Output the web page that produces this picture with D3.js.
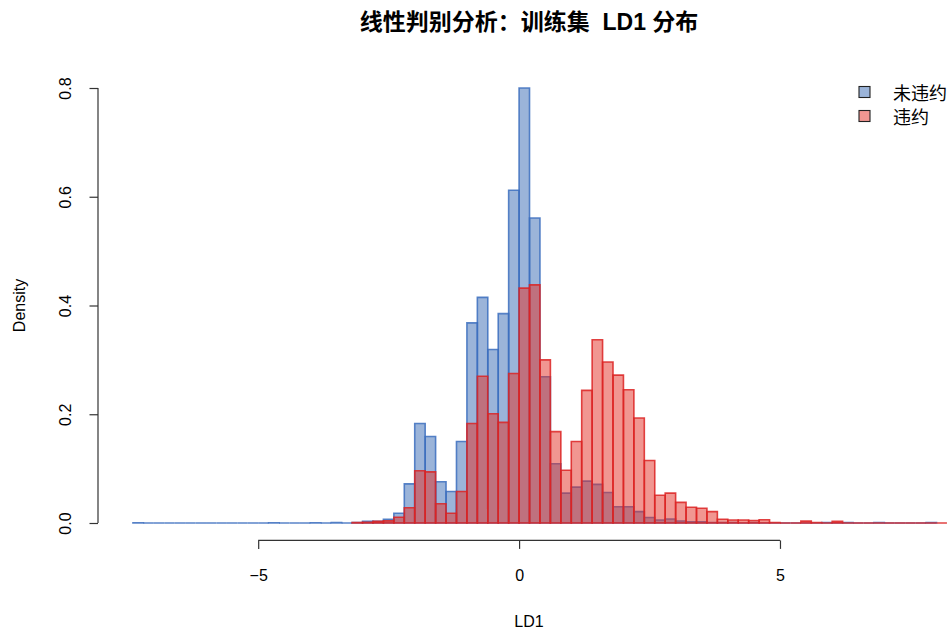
<!DOCTYPE html>
<html>
<head>
<meta charset="utf-8">
<script src="https://cdn.jsdelivr.net/npm/d3@7"></script>
<style>
  html, body { margin: 0; padding: 0; background: #fff; }
  svg { display: block; }
  text { font-family: "Liberation Sans", Arial, "Noto Sans CJK SC", sans-serif; fill: #000; }
</style>
</head>
<body>
<svg id="chart" width="952" height="632"></svg>
<script>
// LD1 histograms (density per 0.2-wide bin) for the two classes
const binWidth = 0.2;
const seriesNames = ["未违约", "违约"];

// 未违约: bins start at -7.4
const nonDefaultStart = -7.4;
const nonDefaultDensity = [
  0.0005, 0, 0, 0, 0, 0, 0, 0, 0, 0,
  0, 0, 0, 0.0005, 0, 0, 0, 0.0005, 0, 0.001,
  0, 0.001, 0.003, 0.003, 0.007, 0.018, 0.072, 0.183, 0.159, 0.076,
  0.058, 0.150, 0.368, 0.415, 0.319, 0.385, 0.612, 0.800, 0.561, 0.269,
  0.109, 0.055, 0.066, 0.077, 0.071, 0.056, 0.030, 0.030, 0.021, 0.010,
  0.0055, 0.0074, 0.0037, 0.002, 0.002, 0.001, 0.001, 0.001, 0, 0.001,
  0, 0, 0, 0, 0, 0, 0.001, 0, 0.001, 0,
  0, 0.001, 0, 0, 0, 0, 0.001
];

// 违约: bins start at -3.2
const defaultStart = -3.2;
const defaultDensity = [
  0.001, 0.0015, 0.003, 0.004, 0.0105, 0.028, 0.096, 0.094, 0.0355, 0.018,
  0.058, 0.183, 0.270, 0.201, 0.185, 0.275, 0.432, 0.438, 0.300, 0.168,
  0.097, 0.150, 0.244, 0.337, 0.296, 0.272, 0.245, 0.193, 0.115, 0.051,
  0.055, 0.038, 0.029, 0.027, 0.021, 0.007, 0.0055, 0.0055, 0.0045, 0.006,
  0.001, 0, 0, 0.0035, 0.001, 0, 0.003, 0, 0, 0,
  0, 0, 0, 0, 0, 0, 0
];

const xTicks = [-5, 0, 5];
const yTicks = [0.0, 0.2, 0.4, 0.6, 0.8];

const titleText = "线性判别分析：训练集  LD1 分布";
const xLabel = "LD1";
const yLabel = "Density";

const styles = [
  { fill: "rgba(55,105,180,0.5)", stroke: "rgba(60,110,190,0.85)" },
  { fill: "rgba(228,45,35,0.5)", stroke: "rgba(220,35,35,0.85)" }
];

const svg = d3.select("#chart");

// plot region (device pixels)
const plot = { left: 98, right: 960, top: 70.6, bottom: 540.4 };

const x = d3.scaleLinear().domain([-8.07, 8.45]).range([plot.left, plot.right]);
const y = d3.scaleLinear().domain([-0.032, 0.832]).range([plot.bottom, plot.top]);

svg.append("defs").append("clipPath").attr("id", "plotClip")
  .append("rect")
  .attr("x", plot.left).attr("y", plot.top)
  .attr("width", plot.right - plot.left).attr("height", plot.bottom - plot.top);

function toBins(start, dens) {
  return dens.map((d, i) => ({ x0: start + i * binWidth, x1: start + (i + 1) * binWidth, d }));
}

function barPath(b) {
  const p = d3.path();
  const x0 = x(b.x0), x1 = x(b.x1), y0 = y(0), y1 = y(b.d);
  p.moveTo(x0, y0);
  p.lineTo(x0, y1);
  p.lineTo(x1, y1);
  p.lineTo(x1, y0);
  p.closePath();
  return p.toString();
}

const layers = [toBins(nonDefaultStart, nonDefaultDensity), toBins(defaultStart, defaultDensity)];

const gBars = svg.append("g").attr("clip-path", "url(#plotClip)");
layers.forEach((bins, k) => {
  gBars.append("g")
    .selectAll("path")
    .data(bins)
    .join("path")
    .attr("d", barPath)
    .attr("fill", styles[k].fill)
    .attr("stroke", styles[k].stroke)
    .attr("stroke-width", 1.6)
    .attr("stroke-linejoin", "miter");
});

// x axis (base-graphics style: line spans first to last tick)
const xAxis = d3.axisBottom(x).tickValues(xTicks).tickFormat(d3.format("d"))
  .tickSizeOuter(0).tickSizeInner(8.5).tickPadding(21);
const gx = svg.append("g").attr("transform", `translate(0,${plot.bottom})`).call(xAxis);
gx.select(".domain").remove();
gx.append("line")
  .attr("x1", x(xTicks[0])).attr("x2", x(xTicks[xTicks.length - 1]))
  .attr("y1", 0).attr("y2", 0)
  .attr("stroke", "#333").attr("stroke-width", 1.2);
gx.selectAll(".tick line").attr("stroke", "#333").attr("stroke-width", 1.2);
gx.selectAll(".tick text").attr("font-size", 16).style("font-family", "'Liberation Sans', Arial, sans-serif").attr("fill", "#000");

// y axis
const yAxis = d3.axisLeft(y).tickValues(yTicks).tickFormat(d3.format(".1f"))
  .tickSizeOuter(0).tickSizeInner(8.5);
const gy = svg.append("g").attr("transform", `translate(${plot.left},0)`).call(yAxis);
gy.select(".domain").remove();
gy.append("line")
  .attr("x1", 0).attr("x2", 0)
  .attr("y1", y(yTicks[0])).attr("y2", y(yTicks[yTicks.length - 1]))
  .attr("stroke", "#333").attr("stroke-width", 1.2);
gy.selectAll(".tick line").attr("stroke", "#333").attr("stroke-width", 1.2);
gy.selectAll(".tick text")
  .attr("font-size", 16)
  .attr("x", null).attr("dy", null)
  .attr("text-anchor", "middle")
  .attr("dominant-baseline", "central")
  .attr("transform", "translate(-33,0) rotate(-90)")
  .style("font-family", "'Liberation Sans', Arial, sans-serif")
  .attr("fill", "#000");

// axis titles
svg.append("text")
  .attr("x", (plot.left + plot.right) / 2).attr("y", 621)
  .attr("text-anchor", "middle").attr("dominant-baseline", "central")
  .attr("font-size", 16).text(xLabel);

svg.append("text")
  .attr("transform", `translate(19,${(y(0) + y(0.8)) / 2}) rotate(-90)`)
  .attr("text-anchor", "middle").attr("dominant-baseline", "central")
  .attr("font-size", 16).text(yLabel);

// title
svg.append("text")
  .attr("x", (plot.left + plot.right) / 2).attr("y", 22)
  .attr("text-anchor", "middle").attr("dominant-baseline", "central")
  .attr("font-size", 23).attr("font-weight", "bold")
  .style("white-space", "pre")
  .style("font-family", "'Liberation Sans', Arial, 'Noto Sans CJK SC', sans-serif")
  .text(titleText);

// legend
const legend = svg.append("g").attr("transform", "translate(859,92)");
seriesNames.forEach((name, i) => {
  const row = legend.append("g").attr("transform", `translate(0,${i * 24})`);
  row.append("rect")
    .attr("x", 0).attr("y", -5.5).attr("width", 11).attr("height", 11)
    .attr("fill", styles[i].fill).attr("stroke", "#222").attr("stroke-width", 1.1);
  row.append("text")
    .attr("x", 34).attr("y", 0)
    .attr("dominant-baseline", "central")
    .attr("font-size", 18)
    .style("font-family", "'Noto Sans CJK SC', sans-serif")
    .text(name);
});
</script>
</body>
</html>
